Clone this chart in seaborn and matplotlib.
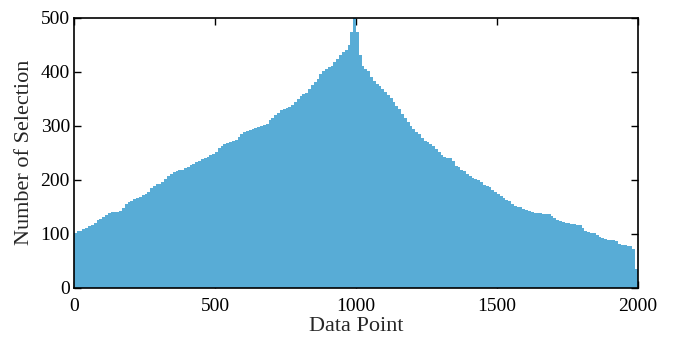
import matplotlib
matplotlib.use("Agg")
import matplotlib.pyplot as plt
import seaborn as sns
import pandas as pd

# Number of selections, one value per block of 10 data points
# (block centres 5, 15, ..., 1995)
selections = [
    102, 105, 106, 109, 111, 114, 117, 121, 125, 128,   # 0-100
    131, 135, 138, 140, 140, 141, 142, 148, 156, 159,   # 100-200
    161, 164, 167, 169, 171, 174, 178, 184, 189, 192,   # 200-300
    193, 196, 202, 207, 211, 214, 216, 218, 219, 221,   # 300-400
    223, 227, 230, 232, 235, 238, 241, 243, 245, 248,   # 400-500
    252, 258, 263, 266, 268, 269, 271, 274, 279, 284,   # 500-600
    288, 291, 292, 293, 295, 297, 299, 301, 304, 310,   # 600-700
    314, 319, 324, 329, 331, 332, 335, 339, 344, 349,   # 700-800
    354, 358, 361, 368, 376, 381, 386, 395, 401, 405,   # 800-900
    408, 411, 417, 424, 431, 437, 440, 449, 474, 499,   # 900-1000
    473, 430, 410, 405, 402, 390, 383, 377, 373, 368,   # 1000-1100
    363, 357, 352, 344, 336, 330, 322, 314, 306, 299,   # 1100-1200
    294, 289, 284, 278, 272, 269, 266, 262, 257, 251,   # 1200-1300
    246, 243, 241, 240, 235, 226, 223, 219, 216, 211,   # 1300-1400
    207, 204, 201, 199, 196, 191, 189, 187, 182, 177,   # 1400-1500
    174, 170, 167, 163, 160, 155, 151, 150, 149, 146,   # 1500-1600
    144, 142, 140, 138, 138, 138, 137, 137, 136, 133,   # 1600-1700
    130, 126, 124, 122, 121, 120, 119, 118, 117, 116,   # 1700-1800
    110, 105, 103, 102, 101, 98, 95, 92, 90, 89,        # 1800-1900
    89, 88, 86, 82, 80, 79, 78, 77, 73, 35,             # 1900-2000
]
data_point = [5 + 10 * i for i in range(len(selections))]
x_ticks = [0, 500, 1000, 1500, 2000]
y_ticks = [0, 100, 200, 300, 400, 500]

df = pd.DataFrame({"Data Point": data_point, "Number of Selection": selections})

sns.set_theme(style="white")
plt.rcParams["font.family"] = ["Liberation Serif", "DejaVu Serif"]

fig = plt.figure(figsize=(6.74, 3.42), dpi=100)
ax = fig.add_axes([0.1098, 0.1579, 0.8368, 0.7909])

sns.barplot(data=df, x="Data Point", y="Number of Selection", native_scale=True,
            width=1.0, color="#58ACD6", saturation=1, errorbar=None,
            linewidth=0, ax=ax)

ax.set_xlim(0, 2000)
ax.set_ylim(0, 500)
ax.set_xticks(x_ticks)
ax.set_xticklabels([str(t) for t in x_ticks])
ax.set_yticks(y_ticks)
ax.set_yticklabels([str(t) for t in y_ticks])
ax.set_xlabel("Data Point", fontsize=16, labelpad=2)
ax.set_ylabel("Number of Selection", fontsize=16, labelpad=5)

ax.tick_params(axis="both", which="both", direction="in", length=5, width=1,
               top=True, right=True, bottom=True, left=True,
               labelsize=14, colors="black")
ax.tick_params(axis="x", pad=7)
ax.tick_params(axis="y", pad=3)
for s in ax.spines.values():
    s.set_visible(True)
    s.set_color("black")
    s.set_linewidth(1.2)
ax.set_facecolor("white")
fig.patch.set_facecolor("white")

fig.savefig("out.png", dpi=100, facecolor="white")
